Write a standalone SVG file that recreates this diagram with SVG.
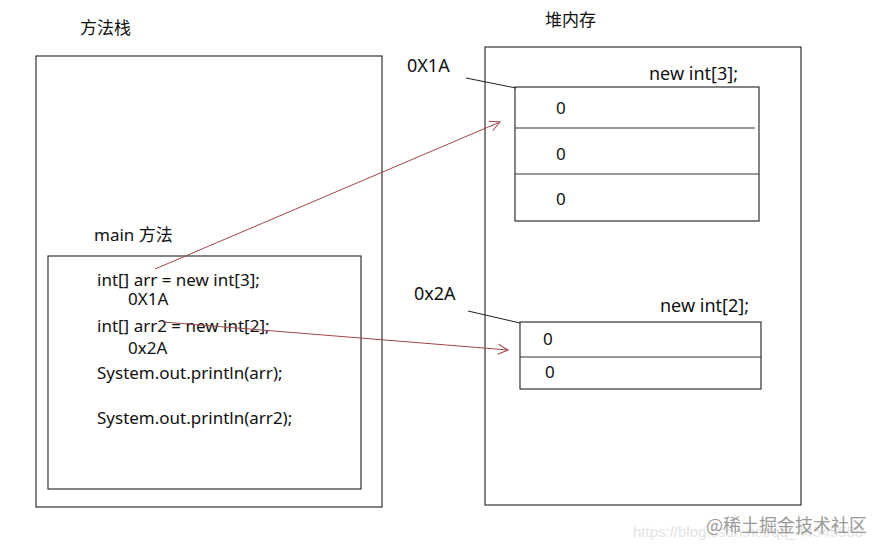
<svg xmlns="http://www.w3.org/2000/svg" width="886" height="553" viewBox="0 0 886 553">
<defs>
<style>
.box{fill:none;stroke:#333;stroke-width:1.2}
.t{font-family:"Noto Sans","Noto Sans CJK SC",sans-serif;font-size:17px;fill:#111}
.l{font-size:18px}
.arr{fill:none;stroke:#a0464a;stroke-width:1}
.lead{fill:none;stroke:#222;stroke-width:1}
.wm{font-family:"Noto Sans CJK SC","Noto Sans",sans-serif;font-size:18px;fill:#9a9a9a}
.wm2{font-family:"Liberation Sans",sans-serif;font-size:15px;fill:#e4e4e4}
</style>
<marker id="open" viewBox="0 0 12 12" refX="11" refY="6" markerWidth="12" markerHeight="12" markerUnits="userSpaceOnUse" orient="auto">
<path d="M1,1 L11,6 L1,11" fill="none" stroke="#a0464a" stroke-width="1"/>
</marker>
</defs>
<rect width="886" height="553" fill="#fff"/>

<g id="stack">
<text class="t" x="80" y="34">方法栈</text>
<rect class="box" x="36" y="56" width="346" height="451"/>
</g>

<g id="main">
<text class="t" x="94" y="241">main 方法</text>
<rect class="box" x="48" y="256" width="313" height="233"/>
<text class="t" x="97" y="286">int[] arr = new int[3];</text>
<text class="t" x="128" y="305">0X1A</text>
<text class="t" x="97" y="332">int[] arr2 = new int[2];</text>
<text class="t" x="128" y="354">0x2A</text>
<text class="t" x="97" y="379">System.out.println(arr);</text>
<text class="t" x="97" y="424">System.out.println(arr2);</text>
</g>

<g id="heap">
<text class="t" x="545" y="26">堆内存</text>
<rect class="box" x="485" y="47" width="316" height="458"/>
</g>

<g id="array3">
<text class="t l" x="407" y="72">0X1A</text>
<text class="t l" x="649" y="80">new int[3];</text>
<rect class="box" x="515" y="87" width="244" height="134"/>
<line class="box" x1="515" y1="128" x2="755" y2="128"/>
<line class="box" x1="515" y1="174" x2="759" y2="174"/>
<text class="t" x="556" y="114">0</text>
<text class="t" x="556" y="160">0</text>
<text class="t" x="556" y="205">0</text>
</g>

<g id="array2">
<text class="t l" x="414" y="300">0x2A</text>
<text class="t l" x="660" y="312">new int[2];</text>
<rect class="box" x="520" y="322" width="241" height="67"/>
<line class="box" x1="520" y1="357" x2="761" y2="357"/>
<text class="t" x="543" y="345">0</text>
<text class="t" x="545" y="378">0</text>
</g>

<g id="connectors">
<line class="lead" x1="466" y1="78" x2="516" y2="88"/>
<line class="lead" x1="468" y1="311" x2="520" y2="323"/>
<line class="arr" x1="155" y1="269" x2="500" y2="122" marker-end="url(#open)"/>
<line class="arr" x1="163" y1="322" x2="508" y2="350" marker-end="url(#open)"/>
</g>

<g id="watermark">
<text class="wm2" x="633" y="537">https://blog.csdn.net/qq_44545558</text>
<text class="wm" x="706" y="532">@稀土掘金技术社区</text>
</g>
</svg>
